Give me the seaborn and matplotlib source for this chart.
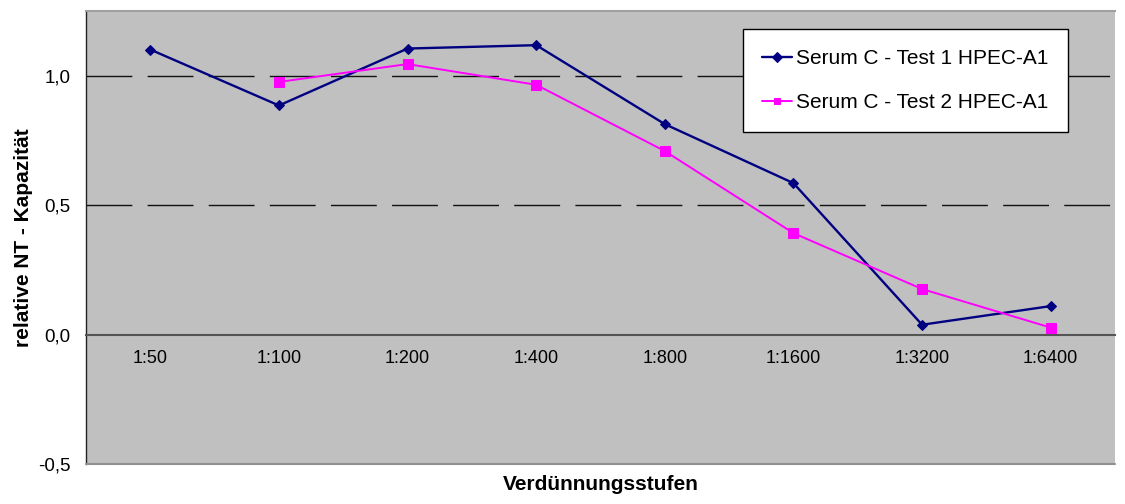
import matplotlib
matplotlib.use("Agg")
import matplotlib.pyplot as plt
import numpy as np
import pandas as pd
import seaborn as sns

# Dilution steps and relative neutralisation capacity per test run
dilutions = ["1:50", "1:100", "1:200", "1:400", "1:800", "1:1600", "1:3200", "1:6400"]
test1 = [1.101, 0.885, 1.105, 1.118, 0.813, 0.585, 0.038, 0.110]
test2 = [np.nan, 0.976, 1.045, 0.965, 0.709, 0.392, 0.176, 0.027]
label1 = "Serum C - Test 1 HPEC-A1"
label2 = "Serum C - Test 2 HPEC-A1"
y_ticks = [-0.5, 0.0, 0.5, 1.0]
y_tick_labels = ["-0,5", "0,0", "0,5", "1,0"]

sns.set_style("white")
plt.rcParams["font.family"] = ["Liberation Sans", "DejaVu Sans"]
plt.rcParams["text.color"] = "black"
plt.rcParams["axes.labelcolor"] = "black"

df = pd.DataFrame({"pos": np.arange(len(dilutions)), "t1": test1, "t2": test2})

fig = plt.figure(figsize=(11.25, 5.04), dpi=100)
ax = fig.add_axes([86 / 1125, 40 / 504, (1115 - 86) / 1125, (464 - 11) / 504])
ax.set_facecolor("#C0C0C0")

# dashed reference lines
for yv in (0.5, 1.0):
    ax.axhline(yv, color="#111111", lw=1.0, dashes=(33, 11), zorder=1)

sns.lineplot(data=df, x="pos", y="t1", ax=ax, color="#000080", marker="D",
             markersize=5.5, markeredgecolor="#000080", lw=1.7, label=label1, zorder=3)
sns.lineplot(data=df.dropna(), x="pos", y="t2", ax=ax, color="#FF00FF", marker="s",
             markersize=6.5, markeredgecolor="#FF00FF", lw=1.4, label=label2, zorder=3)

ax.set_xlim(-0.5, len(dilutions) - 0.5)
ax.set_ylim(-0.5, 1.25)

# category axis crossing at zero, ticks between the categories
ax.spines["bottom"].set_position(("data", 0))
ax.spines["bottom"].set_color("#555555")
ax.spines["bottom"].set_linewidth(1.5)
ax.spines["left"].set_color("#222222")
ax.spines["left"].set_linewidth(1.0)
ax.spines["right"].set_visible(False)
ax.spines["top"].set_color("#A0A0A0")
ax.spines["top"].set_linewidth(1.5)
ax.axhline(-0.5, color="#909090", lw=1.5, clip_on=False, zorder=4)

ax.set_xticks(np.arange(len(dilutions) + 1) - 0.5)
ax.set_xticklabels([])
ax.set_xticks(np.arange(len(dilutions)), minor=True)
ax.set_xticklabels(dilutions, minor=True)
ax.tick_params(axis="x", which="major", direction="out", length=5, width=1, color="#222222")
ax.tick_params(axis="x", which="minor", length=0, pad=11, labelsize=13, labelcolor="black")

ax.set_yticks(y_ticks)
ax.set_yticklabels(y_tick_labels)
ax.tick_params(axis="y", direction="out", length=5, width=1, color="#222222",
               labelsize=13.5, pad=6, labelcolor="black")

ax.set_xlabel("Verdünnungsstufen", fontsize=15, fontweight="bold")
ax.xaxis.set_label_coords(0.5, -0.024)
ax.set_ylabel("relative NT - Kapazität", fontsize=15, fontweight="bold")
ax.yaxis.set_label_coords(-0.0515, 0.5)

leg = ax.legend(loc="upper right", bbox_to_anchor=(0.9543, 0.960), fontsize=15,
                frameon=True, fancybox=False, edgecolor="black", framealpha=1,
                handlelength=1.4, handletextpad=0.2, borderpad=0.95, labelspacing=1.2,
                borderaxespad=0)
leg.get_frame().set_linewidth(1.0)
for h in leg.legend_handles:
    h.set_markersize(5)

fig.savefig("out.png", dpi=100)
